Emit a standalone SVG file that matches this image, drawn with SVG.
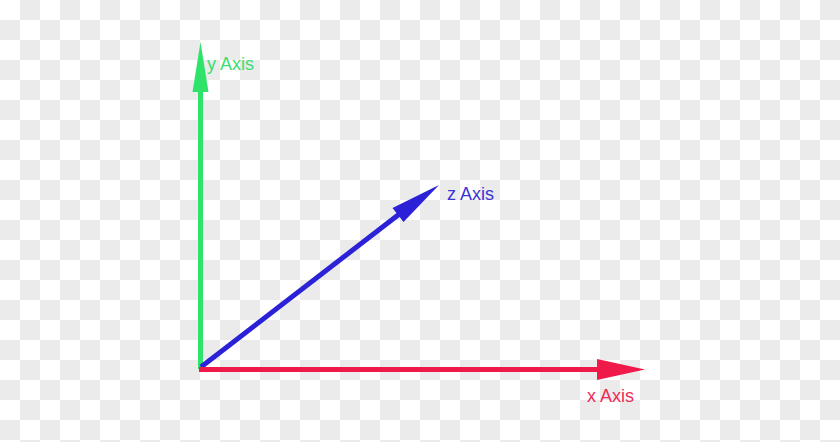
<svg xmlns="http://www.w3.org/2000/svg" width="840" height="442" viewBox="0 0 840 442">
<defs>
<pattern id="checker" width="40" height="40" patternUnits="userSpaceOnUse">
<rect width="40" height="40" fill="#ffffff"/>
<rect x="20" y="0" width="20" height="20" fill="#ebebeb"/>
<rect x="0" y="20" width="20" height="20" fill="#ebebeb"/>
</pattern>
<style>
.lbl{font-family:"Liberation Sans",Arial,sans-serif;font-size:18px}
</style>
</defs>
<rect width="840" height="442" fill="url(#checker)"/>
<g id="connectors">
<g id="y-axis">
<line x1="200.5" y1="369" x2="200.5" y2="88" stroke="#2ee26a" stroke-width="5"/>
<polygon points="200.5,42 208.5,92 192.5,92" fill="#2ee26a"/>
</g>
<g id="z-axis">
<line x1="201" y1="367" x2="402" y2="212" stroke="#2b22d8" stroke-width="5"/>
<polygon points="439,185 403.5,222 392.5,208" fill="#2b22d8"/>
</g>
<g id="x-axis">
<line x1="199" y1="369.5" x2="600" y2="369.5" stroke="#ef1a4a" stroke-width="5"/>
<polygon points="645,369.5 597,359 597,380" fill="#ef1a4a"/>
</g>
</g>
<g id="y-label"><text class="lbl" x="207" y="70" fill="#3ade72">y Axis</text></g>
<g id="z-label"><text class="lbl" x="447" y="200" fill="#3a33d6">z Axis</text></g>
<g id="x-label"><text class="lbl" x="587" y="402" fill="#ee2a55">x Axis</text></g>
</svg>
